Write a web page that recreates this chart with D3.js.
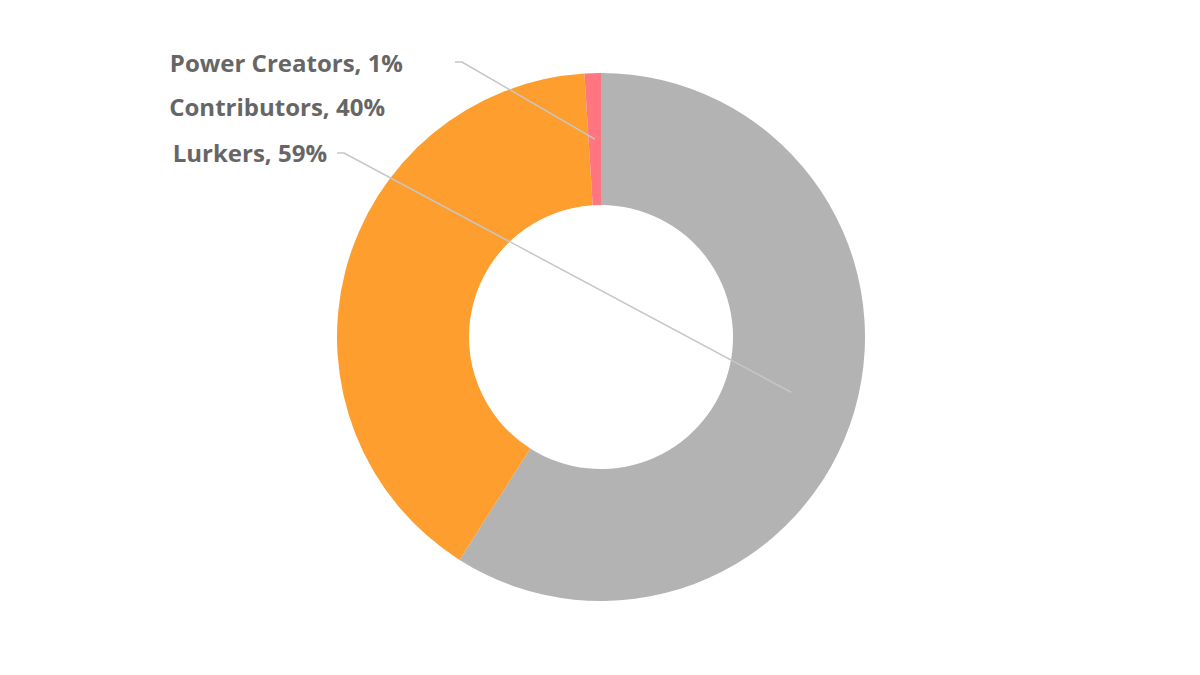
<!DOCTYPE html>
<html>
<head>
<meta charset="utf-8">
<script src="https://d3js.org/d3.v7.min.js"></script>
<style>
  html, body { margin: 0; padding: 0; background: #fff; }
  svg { display: block; }
</style>
</head>
<body>
<svg id="chart" width="1200" height="675"></svg>
<script>
const categories = ["Lurkers", "Contributors", "Power Creators"];
const values = [59, 40, 1];
const colors = ["#b3b3b3", "#fd9e2f", "#ff7580"];

const width = 1200, height = 675;
const cx = 601, cy = 337;
const outerR = 264, innerR = 132;

const svg = d3.select("#chart");
const g = svg.append("g").attr("transform", `translate(${cx},${cy})`);

const data = categories.map((c, i) => ({ name: c, value: values[i], color: colors[i] }));
const pie = d3.pie().value(d => d.value).sort(null);
const arcs = pie(data);
const arc = d3.arc().innerRadius(innerR).outerRadius(outerR);
const midArc = d3.arc().innerRadius((innerR + outerR) / 2).outerRadius((innerR + outerR) / 2);

g.selectAll("path.slice")
  .data(arcs)
  .enter().append("path")
  .attr("class", "slice")
  .attr("d", arc)
  .attr("fill", d => d.data.color);

// Label layout (absolute page positions, text anchored at end)
const labelPos = {
  "Power Creators": { x: 403, y: 66, line: true, lx: 455, ly: 62 },
  "Contributors": { x: 385, y: 110, line: false },
  "Lurkers": { x: 327, y: 156, line: true, lx: 337, ly: 153 }
};

arcs.forEach(a => {
  const p = labelPos[a.data.name];
  if (p.line) {
    const c = midArc.centroid(a);
    const ex = cx + c[0], ey = cy + c[1];
    svg.append("polyline")
      .attr("points", `${p.lx},${p.ly} ${p.lx + 7},${p.ly} ${ex},${ey}`)
      .attr("fill", "none")
      .attr("stroke", "#c6c6c6")
      .attr("stroke-width", 1.5);
  }
});

arcs.forEach(a => {
  const p = labelPos[a.data.name];
  svg.append("text")
    .attr("x", p.x)
    .attr("y", p.y)
    .attr("text-anchor", "end")
    .attr("dominant-baseline", "middle")
    .attr("font-family", "'Open Sans', sans-serif")
    .attr("font-weight", "bold")
    .attr("font-size", 24)
    .attr("fill", "#666666")
    .text(`${a.data.name}, ${a.data.value}%`);
});
</script>
</body>
</html>
